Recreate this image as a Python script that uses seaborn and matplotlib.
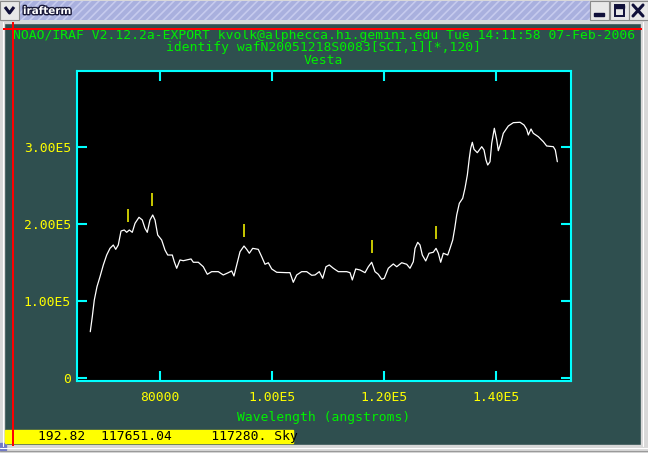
import matplotlib
matplotlib.use('Agg')
import matplotlib.pyplot as plt
import matplotlib.patheffects as pe
from matplotlib.patches import Rectangle
import seaborn as sns

# spectrum (angstroms, counts)
wavelength = [
    67550, 67910, 68270, 68750, 69290, 69880, 70480, 71070, 71660, 72090,
    72550, 73040, 73620, 74050, 74520, 75050, 75540, 76250, 76840, 77320,
    77730, 78210, 78700, 79110, 79590, 80300, 80890, 81380, 82200, 82550,
    82980, 83570, 84160, 85540, 85950, 86840, 87730, 88450, 89230, 90410,
    91300, 92200, 92800, 93210, 93700, 94290, 95000, 95480, 95950, 96550,
    97550, 98160, 98750, 99340, 99950, 100840, 102630, 103210, 103800, 104410,
    105300, 106200, 107090, 107680, 108450, 109050, 109640, 110230, 110950, 111840,
    113340, 113930, 114340, 114950, 115710, 116610, 117200, 117800, 118390, 118980,
    119590, 120050, 120770, 121660, 122270, 123160, 124050, 124640, 125230, 125540,
    126020, 126430, 126840, 127450, 128040, 128800, 129290, 129700, 130120, 130590,
    131380, 131790, 132270, 132630, 132980, 133450, 134050, 134460, 134880, 135230,
    135480, 135770, 136070, 136660, 137450, 137860, 138210, 138520, 138930, 139230,
    139700, 140130, 140410, 140840, 141300, 142200, 143090, 144290, 145000, 145480,
    145770, 146250, 146660, 147550, 148450, 149050, 150230, 150590, 150950]

flux = [
    60100, 79600, 101300, 118600, 131600, 146800, 159700, 168400, 172700, 167100,
    172700, 190900, 192200, 189200, 192200, 189200, 200900, 208700, 205200, 194400,
    189200, 205200, 211700, 205200, 185700, 179200, 166200, 159700, 159700, 151000,
    142500, 153300, 152300, 154600, 150300, 150300, 144500, 134700, 138100, 138100,
    133800, 136800, 139000, 132500, 146800, 164000, 171400, 167100, 162000, 168400,
    167100, 157500, 147700, 149700, 141600, 137300, 136800, 136800, 124300, 133800,
    138100, 138100, 133400, 133800, 138100, 129500, 144500, 146800, 142500, 138100,
    138100, 136800, 127300, 141600, 140300, 136800, 144500, 150300, 138100, 134700,
    128200, 129500, 142500, 148100, 144500, 149700, 147700, 142500, 151000, 168400,
    176200, 172700, 159700, 152000, 162000, 163300, 168400, 162000, 150300, 162000,
    159700, 168400, 179200, 194400, 211700, 226900, 233400, 246400, 263600, 285300,
    298300, 306100, 297000, 292600, 300400, 296100, 283100, 276600, 280900, 304800,
    324300, 309100, 295200, 304800, 317800, 327300, 331600, 332100, 328600, 323000,
    315600, 323400, 317800, 313400, 306900, 301300, 300400, 296100, 280900]

# identified lines (yellow marks) and the spectrum level under them
line_wavelength = [74340, 78660, 95050, 117800, 129230]
line_flux = [190900, 211700, 171400, 150300, 168400]

x_ticks = [80000, 100000, 120000, 140000]
x_tick_labels = ['80000', '1.00E5', '1.20E5', '1.40E5']
y_ticks = [0, 100000, 200000, 300000]
y_tick_labels = ['0', '1.00E5', '2.00E5', '3.00E5']

header = 'NOAO/IRAF V2.12.2a-EXPORT kvolk@alphecca.hi.gemini.edu Tue 14:11:58 07-Feb-2006'
subtitle = 'identify wafN20051218S0083[SCI,1][*,120]'
title = 'Vesta'
xlabel = 'Wavelength (angstroms)'
status = '192.82  117651.04     117280. Sky'
window_title = 'irafterm'

GREEN = '#00f000'
YELLOW = '#ffff00'
CYAN = '#00ffff'
SLATE = '#2f4f4f'
GREY = '#d8d8d8'
RED = '#ff0000'

sns.set_theme(style='dark')
plt.rcParams['font.family'] = ['DejaVu Sans Mono']
plt.rcParams['hatch.linewidth'] = 1.2

fig = plt.figure(figsize=(6.48, 4.53), dpi=100)
fig.patch.set_facecolor(SLATE)

# ---------------------------------------------------------
# window chrome, drawn in pixel coordinates
# ---------------------------------------------------------
bg = fig.add_axes([0, 0, 1, 1])
bg.set_xlim(0, 648)
bg.set_ylim(453, 0)
bg.axis('off')
bg.add_patch(Rectangle((0, 0), 648, 453, color=SLATE))
bg.add_patch(Rectangle((0, 0), 4, 453, color=GREY))
bg.add_patch(Rectangle((641, 0), 7, 453, color=GREY))
bg.add_patch(Rectangle((0, 445), 648, 8, color=GREY))
bg.add_patch(Rectangle((0, 0), 648, 23, color=GREY))
bg.plot([3, 3], [22, 446], color='white', lw=0.8)
bg.plot([643, 643], [22, 446], color='white', lw=0.8)
bg.plot([0, 648], [447.5, 447.5], color='white', lw=0.8)
bg.plot([0, 648], [450.5, 450.5], color='#9a9a9a', lw=0.8)
bg.add_patch(Rectangle((0, 443), 6, 7, color='#6f78c8'))
bg.add_patch(Rectangle((20, 1), 570, 19, facecolor='#a9b0de', edgecolor='#c6cbee',
                       hatch='////', lw=0))
bg.text(23, 11, window_title, color='white', fontsize=7.5, fontweight='bold',
        family='DejaVu Sans', va='center',
        path_effects=[pe.withStroke(linewidth=2, foreground='#1a1a3a')])

# title bar buttons
for x0 in [0, 590, 610, 629]:
    bg.add_patch(Rectangle((x0, 1), 19, 19, facecolor='#e8e8e8', edgecolor='#8a8a8a', lw=0.8))
bg.plot([5, 9.5, 14], [7, 13, 7], color='#10103a', lw=2.2, solid_capstyle='butt')
bg.add_patch(Rectangle((594, 13), 10, 3, color='#10103a'))
bg.add_patch(Rectangle((614.5, 5), 9, 11, facecolor='none', edgecolor='#10103a', lw=1.4))
bg.add_patch(Rectangle((614.5, 5), 9, 2.5, color='#10103a'))
bg.plot([633, 643], [5, 16], color='#10103a', lw=2.2)
bg.plot([633, 643], [16, 5], color='#10103a', lw=2.2)

# terminal text
bg.text(324, 35.5, header, color=GREEN, fontsize=9.4, ha='center', va='center')
bg.text(323.5, 48, subtitle, color=GREEN, fontsize=9.4, ha='center', va='center')
bg.text(323.5, 60.5, title, color=GREEN, fontsize=9.4, ha='center', va='center')

# status line
bg.add_patch(Rectangle((5, 430), 288, 13, color=YELLOW, zorder=3))
bg.text(37.5, 436.8, status, color='black', fontsize=9.4, va='center', zorder=4)

# red cursor lines
bg.plot([4, 641], [28.5, 28.5], color=RED, lw=1.2, antialiased=False, zorder=6)
bg.plot([12.5, 12.5], [23, 445], color=RED, lw=1.2, antialiased=False, zorder=6)

# ---------------------------------------------------------
# the plot itself
# ---------------------------------------------------------
ax = fig.add_axes([77 / 648, (453 - 381) / 453, 494 / 648, 310 / 453])
ax.set_facecolor('black')
sns.lineplot(x=wavelength, y=flux, ax=ax, color='white', lw=0.9,
             estimator=None, sort=False)
mark_lo = [f + 12000 for f in line_flux]
mark_hi = [f + 28500 for f in line_flux]
ax.vlines(line_wavelength, mark_lo, mark_hi, color=YELLOW, lw=1.1)

ax.set_xlim(65180, 153390)
ax.set_ylim(-3900, 398700)
ax.grid(False)
ax.set_xticks(x_ticks, x_tick_labels)
ax.set_yticks(y_ticks, y_tick_labels)
for s in ax.spines.values():
    s.set_color(CYAN)
    s.set_linewidth(1.5)
ax.tick_params(which='major', direction='in', length=7, width=1.5, color=CYAN,
               labelcolor=YELLOW, labelsize=9.4, top=True, right=True,
               bottom=True, left=True)
ax.tick_params(axis='x', pad=7)
ax.tick_params(axis='y', pad=4.3)
ax.set_xlabel(xlabel, color=GREEN, fontsize=9.4, labelpad=5)
ax.set_ylabel('')

fig.savefig('out.png', dpi=100, facecolor=SLATE)
